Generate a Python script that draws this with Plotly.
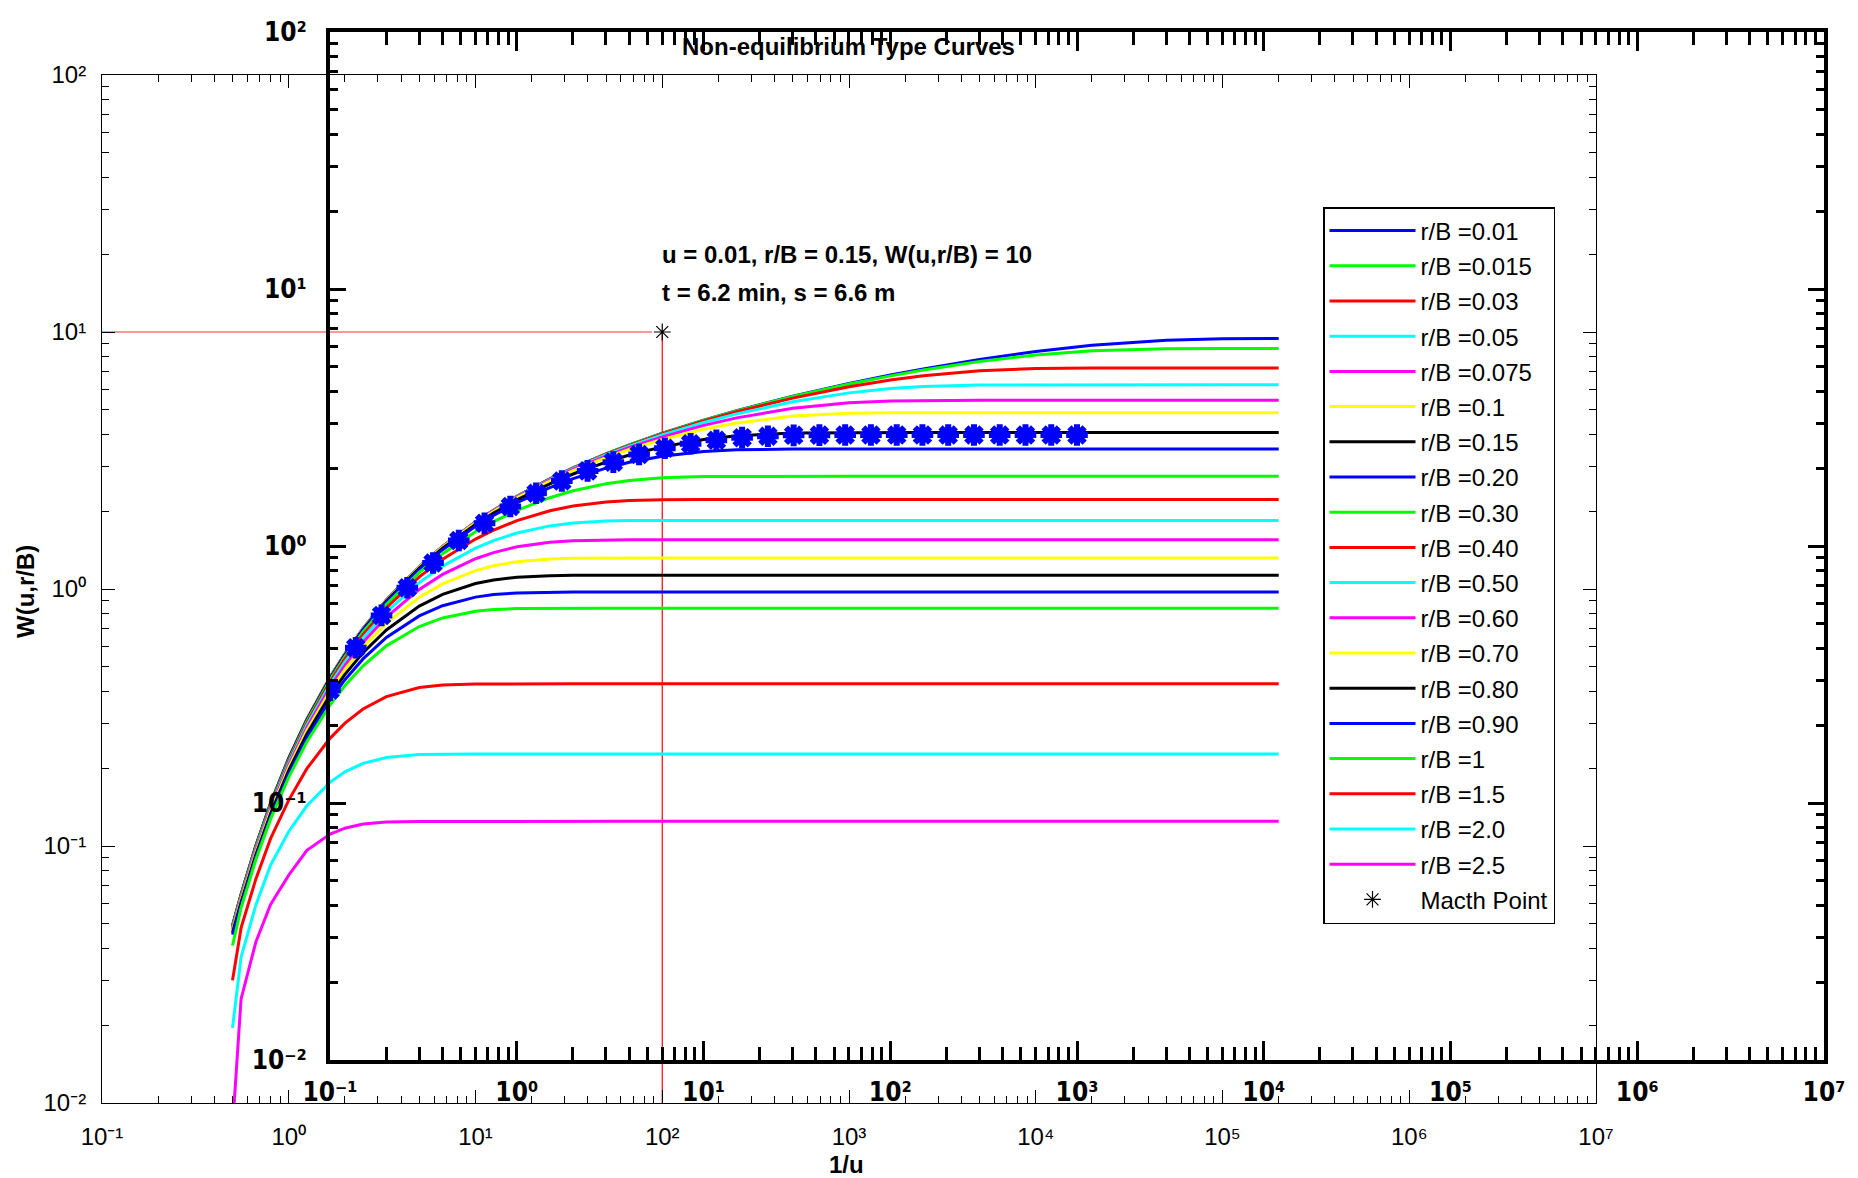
import plotly.graph_objects as go

# ---------------- data ----------------
# 1/u grid of the type curves
INV_U = [0.5, 0.5556, 0.6667, 0.8, 1.0, 1.25, 1.667, 2.0, 2.5, 3.333,
         5.0, 6.667, 10.0, 12.5, 16.67, 25.0, 33.33, 50.0, 66.67, 100.0,
         166.7, 250.0, 500.0, 1000.0, 1667.0, 2500.0, 5000.0, 1.0e4, 2.0e4, 5.0e4,
         1.0e5, 2.0e5]

RB_LABELS = ["0.01", "0.015", "0.03", "0.05", "0.075", "0.1", "0.15", "0.20", "0.30", "0.40",
             "0.50", "0.60", "0.70", "0.80", "0.90", "1", "1.5", "2.0", "2.5"]

W_RB_0_01 = [0.0489, 0.0647, 0.1000, 0.1465, 0.2194, 0.3106, 0.4544, 0.5598, 0.7024, 0.9057,
             1.2227, 1.4645, 1.8227, 2.0267, 2.2950, 2.6808, 2.9584, 3.3536, 3.6358, 4.0355,
             4.5408, 4.9421, 5.6271, 6.3068, 6.8008, 7.1859, 7.8192, 8.3983, 8.8827, 9.2960,
             9.4176, 9.4414]
W_RB_0_015 = [0.0489, 0.0647, 0.1000, 0.1465, 0.2194, 0.3106, 0.4544, 0.5598, 0.7024, 0.9057,
              1.2227, 1.4644, 1.8225, 2.0264, 2.2946, 2.6801, 2.9574, 3.3521, 3.6339, 4.0326,
              4.5358, 4.9346, 5.6120, 6.2767, 6.7509, 7.1120, 7.6769, 8.1414, 8.4533, 8.6154,
              8.6315, 8.6320]
W_RB_0_03 = [0.0489, 0.0647, 0.1000, 0.1465, 0.2193, 0.3105, 0.4543, 0.5597, 0.7022, 0.9054,
             1.2221, 1.4635, 1.8213, 2.0248, 2.2923, 2.6765, 2.9525, 3.3444, 3.6235, 4.0166,
             4.5088, 4.8941, 5.5314, 6.1199, 6.5010, 6.7565, 7.0683, 7.2121, 7.2449, 7.2470,
             7.2470, 7.2470]
W_RB_0_05 = [0.0489, 0.0647, 0.1000, 0.1464, 0.2193, 0.3104, 0.4541, 0.5594, 0.7018, 0.9047,
             1.2209, 1.4618, 1.8184, 2.0210, 2.2869, 2.6680, 2.9408, 3.3264, 3.5990, 3.9795,
             4.4467, 4.8015, 5.3538, 5.7965, 6.0239, 6.1373, 6.2174, 6.2282, 6.2285, 6.2285,
             6.2285, 6.2285]
W_RB_0_075 = [0.0489, 0.0647, 0.0999, 0.1464, 0.2192, 0.3103, 0.4538, 0.5589, 0.7010, 0.9035,
              1.2187, 1.4585, 1.8128, 2.0136, 2.2766, 2.6516, 2.9183, 3.2916, 3.5522, 3.9090,
              4.3308, 4.6331, 5.0517, 5.3078, 5.3920, 5.4160, 5.4227, 5.4228, 5.4228, 5.4228,
              5.4228, 5.4228]
W_RB_0_1 = [0.0489, 0.0646, 0.0999, 0.1463, 0.2190, 0.3100, 0.4532, 0.5582, 0.7000, 0.9018,
            1.2155, 1.4539, 1.8050, 2.0033, 2.2622, 2.6288, 2.8872, 3.2442, 3.4887, 3.8150,
            4.1812, 4.4229, 4.7078, 4.8292, 4.8510, 4.8538, 4.8541, 4.8541, 4.8541, 4.8541,
            4.8541, 4.8541]
W_RB_0_15 = [0.0488, 0.0645, 0.0997, 0.1460, 0.2186, 0.3092, 0.4518, 0.5561, 0.6969, 0.8970,
             1.2067, 1.4407, 1.7829, 1.9745, 2.2219, 2.5657, 2.8017, 3.1145, 3.3200, 3.5724,
             3.8172, 3.9453, 4.0435, 4.0596, 4.0601, 4.0601, 4.0601, 4.0601, 4.0601, 4.0601,
             4.0601, 4.0601]
W_RB_0_20 = [0.0487, 0.0644, 0.0995, 0.1457, 0.2179, 0.3081, 0.4498, 0.5533, 0.6927, 0.8902,
             1.1944, 1.4226, 1.7527, 1.9351, 2.1672, 2.4816, 2.6895, 2.9521, 3.1106, 3.2875,
             3.4273, 3.4806, 3.5043, 3.5054, 3.5054, 3.5054, 3.5054, 3.5054, 3.5054, 3.5054,
             3.5054, 3.5054]
W_RB_0_30 = [0.0485, 0.0641, 0.0989, 0.1447, 0.2161, 0.3050, 0.4442, 0.5453, 0.6809, 0.8713,
             1.1603, 1.3725, 1.6702, 1.8277, 2.0228, 2.2660, 2.4111, 2.5687, 2.6461, 2.7104,
             2.7399, 2.7445, 2.7450, 2.7450, 2.7450, 2.7450, 2.7450, 2.7450, 2.7450, 2.7450,
             2.7450, 2.7450]
W_RB_0_40 = [0.0482, 0.0636, 0.0981, 0.1432, 0.2136, 0.3007, 0.4364, 0.5344, 0.6648, 0.8457,
             1.1146, 1.3063, 1.5644, 1.6947, 1.8451, 2.0155, 2.1031, 2.1809, 2.2093, 2.2254,
             2.2289, 2.2291, 2.2291, 2.2291, 2.2291, 2.2291, 2.2291, 2.2291, 2.2291, 2.2291,
             2.2291, 2.2291]
W_RB_0_50 = [0.0477, 0.0630, 0.0970, 0.1414, 0.2103, 0.2953, 0.4266, 0.5207, 0.6446, 0.8143,
             1.0588, 1.2276, 1.4421, 1.5435, 1.6523, 1.7602, 1.8062, 1.8379, 1.8457, 1.8485,
             1.8488, 1.8488, 1.8488, 1.8488, 1.8488, 1.8488, 1.8488, 1.8488, 1.8488, 1.8488,
             1.8488, 1.8488]
W_RB_0_60 = [0.0472, 0.0623, 0.0957, 0.1393, 0.2065, 0.2889, 0.4150, 0.5045, 0.6210, 0.7775,
             0.9962, 1.1400, 1.3114, 1.3859, 1.4593, 1.5212, 1.5423, 1.5530, 1.5546, 1.5550,
             1.5550, 1.5550, 1.5550, 1.5550, 1.5550, 1.5550, 1.5550, 1.5550, 1.5550, 1.5550,
             1.5550, 1.5550]
W_RB_0_70 = [0.0467, 0.0615, 0.0942, 0.1367, 0.2020, 0.2815, 0.4018, 0.4861, 0.5942, 0.7368,
             0.9283, 1.0474, 1.1790, 1.2309, 1.2769, 1.3094, 1.3176, 1.3207, 1.3210, 1.3210,
             1.3210, 1.3210, 1.3210, 1.3210, 1.3210, 1.3210, 1.3210, 1.3210, 1.3210, 1.3210,
             1.3210, 1.3210]
W_RB_0_80 = [0.0460, 0.0605, 0.0925, 0.1339, 0.1970, 0.2730, 0.3871, 0.4657, 0.5653, 0.6930,
             0.8576, 0.9533, 1.0504, 1.0846, 1.1116, 1.1270, 1.1299, 1.1306, 1.1306, 1.1306,
             1.1306, 1.1306, 1.1306, 1.1306, 1.1306, 1.1306, 1.1306, 1.1306, 1.1306, 1.1306,
             1.1306, 1.1306]
W_RB_0_90 = [0.0452, 0.0594, 0.0906, 0.1307, 0.1915, 0.2640, 0.3712, 0.4439, 0.5345, 0.6475,
             0.7857, 0.8607, 0.9298, 0.9511, 0.9658, 0.9724, 0.9733, 0.9735, 0.9735, 0.9735,
             0.9735, 0.9735, 0.9735, 0.9735, 0.9735, 0.9735, 0.9735, 0.9735, 0.9735, 0.9735,
             0.9735, 0.9735]
W_RB_1 = [0.0410, 0.0575, 0.0886, 0.1275, 0.1855, 0.2544, 0.3543, 0.4210, 0.5023, 0.6009,
          0.7147, 0.7718, 0.8190, 0.8316, 0.8391, 0.8418, 0.8420, 0.8420, 0.8420, 0.8420,
          0.8420, 0.8420, 0.8420, 0.8420, 0.8420, 0.8420, 0.8420, 0.8420, 0.8420, 0.8420,
          0.8420, 0.8420]
W_RB_1_5 = [0.0300, 0.0480, 0.0745, 0.1070, 0.1509, 0.2000, 0.2629, 0.3007, 0.3411, 0.3812,
            0.4135, 0.4231, 0.4270, 0.4275, 0.4276, 0.4276, 0.4276, 0.4276, 0.4276, 0.4276,
            0.4276, 0.4276, 0.4276, 0.4276, 0.4276, 0.4276, 0.4276, 0.4276, 0.4276, 0.4276,
            0.4276, 0.4276]
W_RB_2_0 = [0.0196, 0.0370, 0.0590, 0.0844, 0.1139, 0.1434, 0.1772, 0.1943, 0.2097, 0.2211,
            0.2268, 0.2276, 0.2278, 0.2278, 0.2278, 0.2278, 0.2278, 0.2278, 0.2278, 0.2278,
            0.2278, 0.2278, 0.2278, 0.2278, 0.2278, 0.2278, 0.2278, 0.2278, 0.2278, 0.2278,
            0.2278, 0.2278]
W_RB_2_5 = [0.0080, 0.0254, 0.0423, 0.0593, 0.0770, 0.0962, 0.1113, 0.1173, 0.1218, 0.1240,
            0.1246, 0.1247, 0.1247, 0.1247, 0.1247, 0.1247, 0.1247, 0.1247, 0.1247, 0.1247,
            0.1247, 0.1247, 0.1247, 0.1247, 0.1247, 0.1247, 0.1247, 0.1247, 0.1247, 0.1247,
            0.1247, 0.1247]

CURVES = [W_RB_0_01, W_RB_0_015, W_RB_0_03, W_RB_0_05, W_RB_0_075, W_RB_0_1, W_RB_0_15,
          W_RB_0_20, W_RB_0_30, W_RB_0_40, W_RB_0_50, W_RB_0_60, W_RB_0_70, W_RB_0_80,
          W_RB_0_90, W_RB_1, W_RB_1_5, W_RB_2_0, W_RB_2_5]

# observed drawdown data (overlay axes: time in min, drawdown in m)
T_MIN = [0.1, 0.1374, 0.1888, 0.2593, 0.3562, 0.4894, 0.6723, 0.9237, 1.269, 1.743,
         2.395, 3.290, 4.520, 6.210, 8.532, 11.72, 16.10, 22.12, 30.39, 41.75,
         57.36, 78.80, 108.3, 148.7, 204.3, 280.7, 385.6, 529.8, 727.9, 1000.0]
S_M = [0.275, 0.402, 0.537, 0.688, 0.859, 1.050, 1.225, 1.425, 1.604, 1.790,
       1.960, 2.120, 2.270, 2.400, 2.500, 2.580, 2.640, 2.675, 2.695, 2.700,
       2.702, 2.703, 2.703, 2.703, 2.703, 2.703, 2.703, 2.703, 2.703, 2.703]

# match point
MATCH_INV_U = 100.0
MATCH_W = 10.0
MATCH_HLINE_X = [0.1, 88.0]
MATCH_VLINE_W = [10.0, 0.01]

# tick labels
MAIN_X_TICKS = [0.1, 1, 10, 100, 1e3, 1e4, 1e5, 1e6, 1e7]
MAIN_X_TEXT = ["10\u207b\u00b9", "10\u2070", "10\u00b9", "10\u00b2", "10\u00b3",
               "10\u2074", "10\u2075", "10\u2076", "10\u2077"]
MAIN_Y_TICKS = [0.01, 0.1, 1, 10, 100]
MAIN_Y_TEXT = ["10\u207b\u00b2", "10\u207b\u00b9", "10\u2070", "10\u00b9", "10\u00b2"]

# ---------------- styling ----------------
W_FIG, H_FIG = 1858, 1178
COLORS = ["#0000FF", "#00FF00", "#FF0000", "#00FFFF", "#FF00FF", "#FFFF00", "#000000"]
MINOR_X = [m * 10.0 ** d for d in range(-1, 7) for m in range(2, 10)]
MINOR_Y = [m * 10.0 ** d for d in range(-2, 2) for m in range(2, 10)]
SANS = "Arial, Liberation Sans, Helvetica, sans-serif"
NARROW = "Liberation Sans Narrow, DejaVu Sans Condensed, Arial Narrow, Arial, sans-serif"


def fx(p):
    return p / W_FIG


def fy(p):
    return 1 - p / H_FIG


fig = go.Figure()

# match lines (below curves)
fig.add_trace(go.Scatter(x=MATCH_HLINE_X, y=[MATCH_W, MATCH_W], mode="lines",
                         line=dict(color="#ff3030", width=1.2), showlegend=False, hoverinfo="skip"))
fig.add_trace(go.Scatter(x=[MATCH_INV_U, MATCH_INV_U], y=MATCH_VLINE_W, mode="lines",
                         line=dict(color="#ff0000", width=1.2), showlegend=False, hoverinfo="skip"))

for i, (lab, w) in enumerate(zip(RB_LABELS, CURVES)):
    fig.add_trace(go.Scatter(x=INV_U, y=w, mode="lines", name="r/B =" + lab,
                             line=dict(color=COLORS[i % 7], width=3),
                             legendgroup="g%d" % i))

fig.add_trace(go.Scatter(x=[MATCH_INV_U], y=[MATCH_W], mode="markers", name="Macth Point",
                         marker=dict(symbol="asterisk-open", size=14, color="black",
                                     line=dict(color="black", width=1.2)),
                         legendgroup="gm"))

fig.add_trace(go.Scatter(x=T_MIN, y=S_M, mode="markers", xaxis="x2", yaxis="y2",
                         marker=dict(symbol="asterisk-open", size=18, color="#0000FF",
                                     line=dict(color="#0000FF", width=6)),
                         showlegend=False))

main_common = dict(type="log", showline=True, linecolor="black", linewidth=1, mirror="allticks",
                   ticks="inside", tickwidth=1, tickcolor="black", tickmode="array",
                   showgrid=False, zeroline=False, automargin=False,
                   tickfont=dict(family=SANS, size=24, color="black"))
over_common = dict(type="log", showline=True, linecolor="black", linewidth=4, mirror="allticks",
                   ticks="inside", tickwidth=3, tickcolor="black", tickmode="array",
                   showgrid=False, zeroline=False, automargin=False,
                   tickfont=dict(family=NARROW, size=26, color="black", weight="bold"))

fig.update_layout(
    width=W_FIG, height=H_FIG,
    margin=dict(l=0, r=0, t=0, b=0, autoexpand=False),
    paper_bgcolor="white", plot_bgcolor="rgba(0,0,0,0)",
    xaxis=dict(main_common, range=[-1, 7], domain=[fx(102), fx(1596)], anchor="y",
               tickvals=MAIN_X_TICKS, ticktext=MAIN_X_TEXT, ticklen=13, ticklabelstandoff=12,
               minor=dict(ticks="inside", ticklen=7, tickwidth=1, tickcolor="black",
                          tickmode="array", tickvals=MINOR_X, showgrid=False)),
    yaxis=dict(main_common, range=[-2, 2], domain=[fy(1103), fy(75)], anchor="x",
               tickvals=MAIN_Y_TICKS, ticktext=MAIN_Y_TEXT, ticklen=13, ticklabelstandoff=10,
               minor=dict(ticks="inside", ticklen=7, tickwidth=1, tickcolor="black",
                          tickmode="array", tickvals=MINOR_Y, showgrid=False)),
    xaxis2=dict(over_common, range=[-1, 7], domain=[fx(330), fx(1824)], anchor="y2",
                tickvals=MAIN_X_TICKS, ticktext=MAIN_X_TEXT, ticklen=19, ticklabelstandoff=6,
                minor=dict(ticks="inside", ticklen=13, tickwidth=3, tickcolor="black",
                           tickmode="array", tickvals=MINOR_X, showgrid=False)),
    yaxis2=dict(over_common, range=[-2, 2], domain=[fy(1060), fy(32)], anchor="x2",
                tickvals=MAIN_Y_TICKS, ticktext=MAIN_Y_TEXT, ticklen=16, ticklabelstandoff=14,
                minor=dict(ticks="inside", ticklen=8, tickwidth=3, tickcolor="black",
                           tickmode="array", tickvals=MINOR_Y, showgrid=False)),
    legend=dict(x=fx(1323), y=fy(207), xanchor="left", yanchor="top",
                bgcolor="white", bordercolor="black", borderwidth=1.5,
                font=dict(family=SANS, size=24, color="black"),
                itemwidth=86, tracegroupgap=1),
    annotations=[
        dict(text="<b>Non-equilibrium Type Curves</b>", x=fx(848), y=fy(47), xref="paper", yref="paper",
             showarrow=False, xanchor="center", yanchor="middle",
             font=dict(family=SANS, size=24, color="black")),
        dict(text="<b>u = 0.01, r/B = 0.15, W(u,r/B) = 10</b>", x=fx(660), y=fy(254),
             xref="paper", yref="paper", showarrow=False, xanchor="left", yanchor="middle",
             font=dict(family=SANS, size=24, color="black")),
        dict(text="<b>t = 6.2 min, s = 6.6 m</b>", x=fx(660), y=fy(293),
             xref="paper", yref="paper", showarrow=False, xanchor="left", yanchor="middle",
             font=dict(family=SANS, size=24, color="black")),
        dict(text="<b>1/u</b>", x=fx(846), y=fy(1164), xref="paper", yref="paper",
             showarrow=False, xanchor="center", yanchor="middle",
             font=dict(family=SANS, size=24, color="black")),
        dict(text="<b>W(u,r/B)</b>", x=fx(25), y=fy(592), xref="paper", yref="paper",
             showarrow=False, xanchor="center", yanchor="middle", textangle=-90,
             font=dict(family=SANS, size=24, color="black")),
    ],
)

fig.write_html("out.html", config={"displayModeBar": False})
